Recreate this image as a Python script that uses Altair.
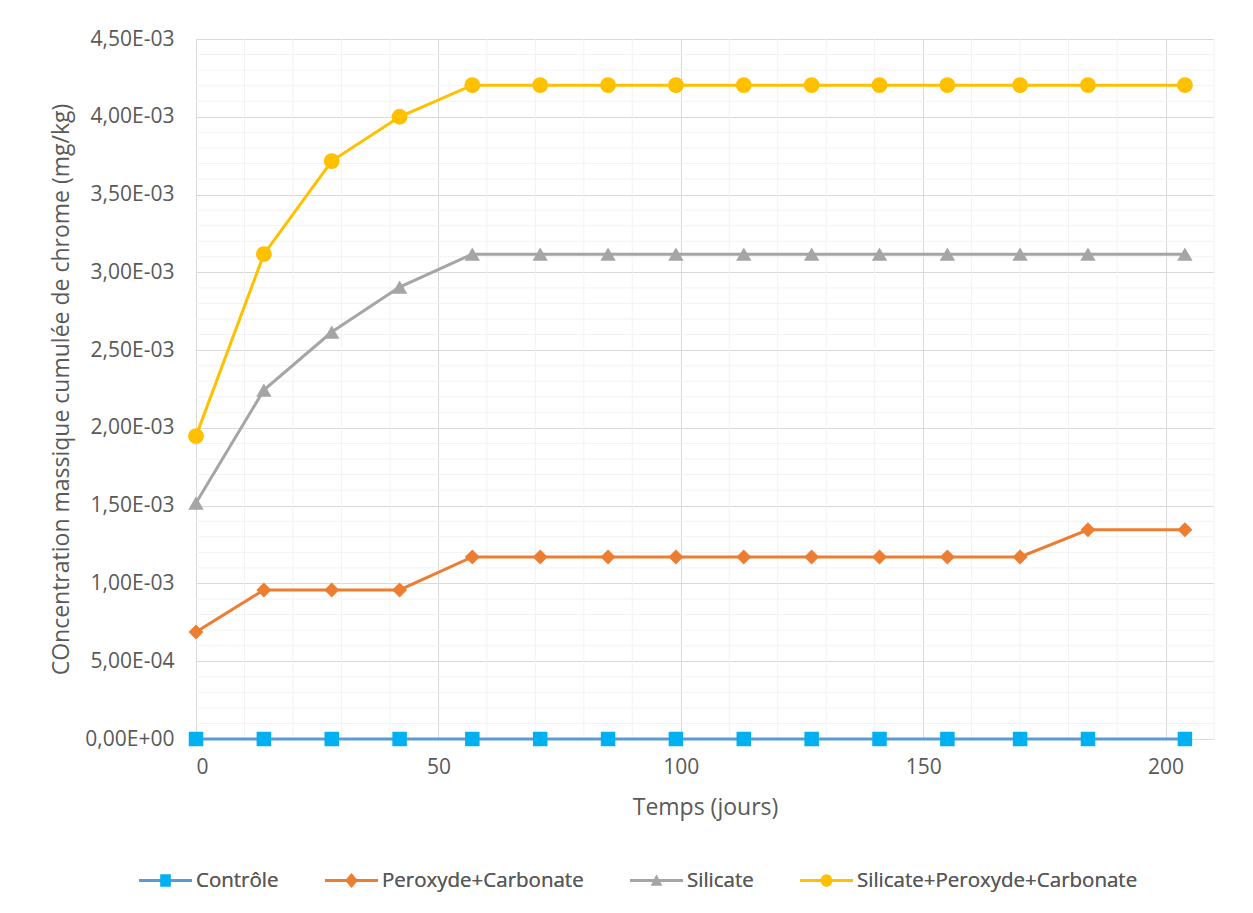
import altair as alt
import pandas as pd

# ---------------- data ----------------
days = [0, 14, 28, 42, 57, 71, 85, 99, 113, 127, 141, 155, 170, 184, 204]
series_names = ["Contrôle", "Peroxyde+Carbonate", "Silicate", "Silicate+Peroxyde+Carbonate"]

controle = [0.0, 0.0, 0.0, 0.0, 0.0, 0.0, 0.0, 0.0, 0.0, 0.0, 0.0, 0.0, 0.0, 0.0, 0.0]
peroxyde_carbonate = [0.000688, 0.000958, 0.000958, 0.000958, 0.00117, 0.00117, 0.00117,
                      0.00117, 0.00117, 0.00117, 0.00117, 0.00117, 0.00117, 0.001345, 0.001345]
silicate = [0.001517, 0.002243, 0.002616, 0.002905, 0.003117, 0.003117, 0.003117, 0.003117,
            0.003117, 0.003117, 0.003117, 0.003117, 0.003117, 0.003117, 0.003117]
silicate_perox_carb = [0.001947, 0.003117, 0.003715, 0.0040, 0.004203, 0.004203, 0.004203,
                       0.004203, 0.004203, 0.004203, 0.004203, 0.004203, 0.004203, 0.004203, 0.004203]

x_major = [0, 50, 100, 150, 200]
y_major = [0.0, 0.0005, 0.001, 0.0015, 0.002, 0.0025, 0.003, 0.0035, 0.004, 0.0045]
x_minor = [v for v in range(10, 211, 10) if v % 50 != 0]
y_minor = [round(i * 0.0001, 6) for i in range(1, 46) if i % 5 != 0]

line_colors = ["#5B9BD5", "#ED7D31", "#A5A5A5", "#FFC000"]
marker_colors = ["#00B0F0", "#ED7D31", "#A5A5A5", "#FFC000"]
marker_shapes = ["square", "diamond", "triangle-up", "circle"]
marker_sizes = [210, 250, 200, 200]

# ---------------- table ----------------
rows = []
for name, vals in zip(series_names, [controle, peroxyde_carbonate, silicate, silicate_perox_carb]):
    for d, v in zip(days, vals):
        rows.append({"series": name, "series2": name, "jours": d, "conc": v})
df = pd.DataFrame(rows)

FONT = "Open Sans"
TXT = "#595959"
MAJOR = "#D9D9D9"
MINOR = "#F2F2F2"

xscale = alt.Scale(domain=[0, 210], nice=False, zero=False)
yscale = alt.Scale(domain=[0, 0.0045], nice=False)

xaxis = alt.Axis(values=x_major, grid=True, gridColor=MAJOR, domain=False, ticks=False,
                 labelFont=FONT, labelFontSize=21, labelColor=TXT, labelPadding=17,
                 title="Temps (jours)", titleFont=FONT, titleFontSize=23,
                 titleFontWeight="normal", titleColor=TXT, titlePadding=19)
yaxis = alt.Axis(values=y_major, grid=True, gridColor=MAJOR, domain=False, ticks=False,
                 labelFont=FONT, labelFontSize=21, labelColor=TXT, labelPadding=22,
                 labelExpr="datum.value == 0 ? '0,00E+00' : replace(replace(format(datum.value, '.2e'), '.', ','), 'e-', 'E-0')",
                 title="COncentration massique cumulée de chrome (mg/kg)",
                 titleFont=FONT, titleFontSize=23, titleFontWeight="normal",
                 titleColor=TXT, titlePadding=11)


def X():
    return alt.X("jours:Q", scale=xscale, axis=xaxis)


def Y():
    return alt.Y("conc:Q", scale=yscale, axis=yaxis)


# legend symbol paths (unit box -1..1, scaled to sqrt(size))
E = " M-1,-0.002 H-0.998 V0.002 H-1 Z M0.998,-0.002 H1 V0.002 H0.998 Z"
bar_path = "M-1,-0.06 H1 V0.06 H-1 Z"
leg_marker_paths = [
    "M-0.2,-0.24 H0.2 V0.24 H-0.2 Z" + E,
    "M-0.24,0 L0,-0.28 L0.24,0 L0,0.28 Z" + E,
    "M-0.22,0.2 L0,-0.24 L0.22,0.2 Z" + E,
    "M-0.22,0 A0.22,0.24 0 1,0 0.22,0 A0.22,0.24 0 1,0 -0.22,0 Z" + E,
]


def leg():
    return alt.Legend(orient="none", legendX=-57, legendY=815, direction="horizontal",
                      title=None, symbolSize=2809, symbolStrokeWidth=0, symbolOpacity=1,
                      labelFont=FONT, labelFontSize=20.5, labelColor=TXT, labelOffset=4,
                      columnPadding=46, labelLimit=500, padding=0)


# ---------------- grid ----------------
vgrid = alt.Chart(pd.DataFrame({"jours": x_minor})).mark_rule(color=MINOR, strokeWidth=1).encode(x=X())
hgrid = alt.Chart(pd.DataFrame({"conc": y_minor})).mark_rule(color=MINOR, strokeWidth=1).encode(y=Y())

base = alt.Chart(df)

lines = base.mark_line(strokeWidth=3).encode(
    x=X(), y=Y(),
    stroke=alt.Stroke("series:N", scale=alt.Scale(domain=series_names, range=line_colors), legend=None),
    detail="series:N",
    order="jours:Q",
)

points = base.mark_point(filled=True, opacity=1, strokeWidth=0).encode(
    x=X(), y=Y(),
    fill=alt.Fill("series:N", scale=alt.Scale(domain=series_names, range=marker_colors), legend=None),
    shape=alt.Shape("series:N", scale=alt.Scale(domain=series_names, range=marker_shapes), legend=None),
    size=alt.Size("series:N", scale=alt.Scale(domain=series_names, range=marker_sizes), legend=None),
)

legend_lines = base.transform_filter("false").mark_point(filled=True, strokeWidth=0).encode(
    x=X(), y=Y(),
    fill=alt.Fill("series:N", scale=alt.Scale(domain=series_names, range=line_colors), legend=leg()),
    shape=alt.Shape("series:N", scale=alt.Scale(domain=series_names, range=[bar_path] * 4), legend=leg()),
)

legend_markers = base.transform_filter("false").mark_point(filled=True, strokeWidth=0).encode(
    x=X(), y=Y(),
    fill=alt.Fill("series2:N", scale=alt.Scale(domain=series_names, range=marker_colors), legend=leg()),
    shape=alt.Shape("series2:N", scale=alt.Scale(domain=series_names, range=leg_marker_paths), legend=leg()),
)

chart = alt.layer(vgrid, hgrid, lines, points, legend_lines, legend_markers).resolve_scale(
    fill="independent", shape="independent", size="independent"
).properties(
    width=1018, height=700,
    background="white",
    autosize=alt.AutoSizeParams(type="none"),
    padding={"left": 188, "top": 31, "right": 31, "bottom": 166},
).configure_view(stroke=None)

chart.save("out.html", embed_options={"renderer": "svg", "actions": False})
